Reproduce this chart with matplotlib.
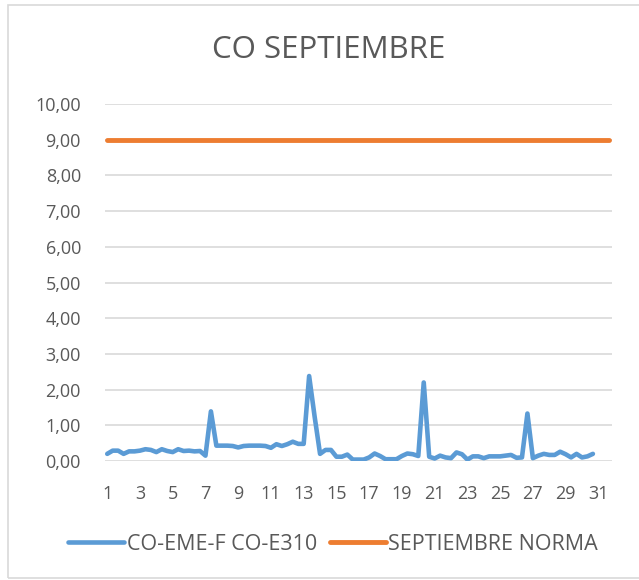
import numpy as np
import matplotlib
matplotlib.use("Agg")
import matplotlib.pyplot as plt
from matplotlib.patches import Rectangle
from matplotlib.ticker import FuncFormatter

plt.rcParams['font.family'] = ['Open Sans', 'DejaVu Sans']

# 3 values per day (8h averages), days 1..31 on the category axis
days = [d for d in range(1, 32) for _ in range(3)]
co_values = [0.20, 0.29, 0.29, 0.20, 0.27, 0.27, 0.29, 0.33, 0.31, 0.25,
             0.33, 0.28, 0.25, 0.33, 0.28, 0.29, 0.27, 0.28, 0.15, 1.39,
             0.43, 0.43, 0.43, 0.42, 0.38, 0.42, 0.43, 0.43, 0.43, 0.42,
             0.37, 0.47, 0.42, 0.47, 0.54, 0.48, 0.48, 2.38, 1.25, 0.20,
             0.31, 0.31, 0.12, 0.12, 0.18, 0.04, 0.04, 0.04, 0.10, 0.21,
             0.14, 0.05, 0.05, 0.05, 0.14, 0.21, 0.19, 0.14, 2.20, 0.12,
             0.07, 0.15, 0.10, 0.08, 0.24, 0.19, 0.04, 0.13, 0.13, 0.08,
             0.13, 0.13, 0.13, 0.15, 0.17, 0.09, 0.10, 1.33, 0.08, 0.15,
             0.20, 0.17, 0.17, 0.26, 0.19, 0.10, 0.20, 0.10, 0.13, 0.20]
norma = [9.0] * len(days)

series_names = ["CO-EME-F CO-E310", "SEPTIEMBRE NORMA"]
title = "CO SEPTIEMBRE"

grey = "#595959"
fig = plt.figure(figsize=(6.39, 5.8), dpi=100)
W, H = 639, 580
ax = fig.add_axes([104.5 / W, 1 - 461 / H, (612 - 104.5) / W, (461 - 104) / H])

x_co = np.arange(len(co_values))
x_all = np.arange(len(days))
ax.plot(x_co, co_values, color="#5B9BD5", lw=3.3, solid_joinstyle="round",
        solid_capstyle="round", label=series_names[0])
ax.plot(x_all, norma, color="#ED7D31", lw=3.5, solid_capstyle="round",
        label=series_names[1])

ax.set_xlim(-0.5, len(days) - 0.5)
ax.set_ylim(0, 10)
ax.set_yticks(np.arange(0, 11, 1))
ax.yaxis.set_major_formatter(FuncFormatter(lambda v, p: f"{v:.2f}".replace(".", ",")))
ticks = x_all[::6]
ax.set_xticks(ticks)
ax.set_xticklabels([str(days[i]) for i in ticks])
ax.grid(axis="y", color="#d9d9d9", lw=1.2)
ax.set_axisbelow(True)
for s in ax.spines.values():
    s.set_visible(False)
ax.tick_params(axis="both", length=0, labelsize=13, labelcolor=grey)
ax.tick_params(axis="y", pad=17)
ax.tick_params(axis="x", pad=17)

fig.text(329 / W, 1 - 50 / H, title, ha="center", va="center", fontsize=22.5, color=grey)

leg = fig.legend(loc="center", bbox_to_anchor=(333 / W, 1 - 544 / H), ncol=2,
                 frameon=False, fontsize=15.5, handlelength=2.6, handletextpad=0.1,
                 columnspacing=0.6)
for t in leg.get_texts():
    t.set_color(grey)

fig.patches.append(Rectangle((8 / W, 2 / H), 1, 1 - 7 / H, transform=fig.transFigure,
                             fill=False, edgecolor="#d9d9d9", lw=1.2))

fig.savefig("out.png", dpi=100)
